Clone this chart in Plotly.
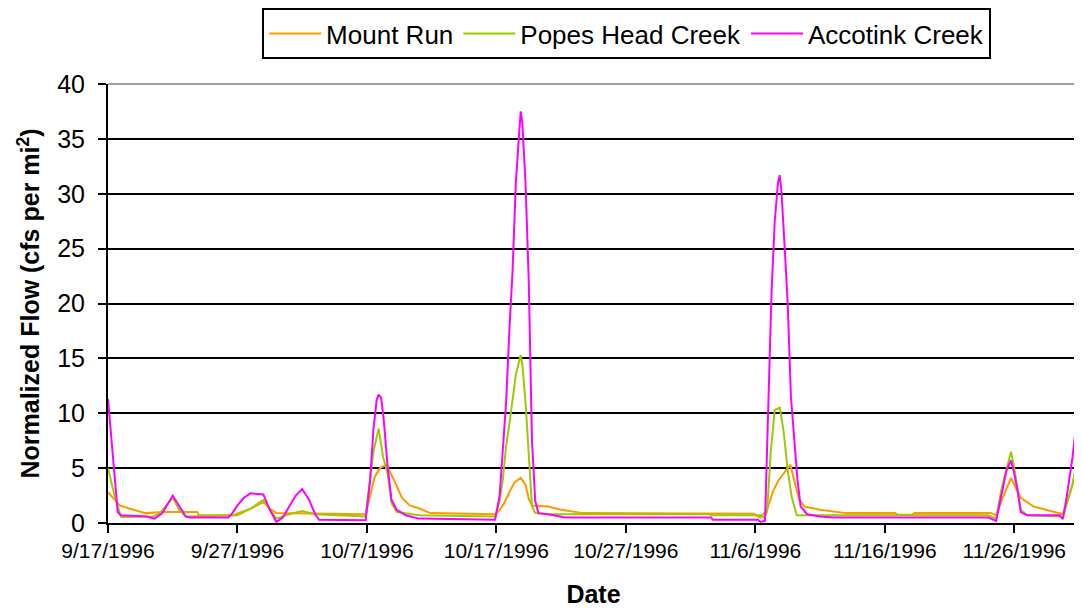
import pandas as pd
import plotly.graph_objects as go

START = "1996-09-17"
END = "1996-12-01"

# x values are days elapsed since START
mount_run_days = [0, 0.9, 1.7, 2.9, 4.3, 6.9, 7.0, 9.6, 11.0, 12.0,
                  12.5, 13.0, 19.9, 20.2, 20.6, 21.0, 21.5, 22.1, 22.7, 23.3,
                  24.1, 24.9, 29.9, 30.2, 30.6, 31.0, 31.4, 31.875, 32.25, 32.5,
                  32.75, 34.0, 35.0, 36.7, 49.9, 50.2, 50.4, 50.9, 51.4, 51.8,
                  52.7, 53.0, 53.4, 53.8, 55.0, 57.0, 60.8, 61.0, 62.1, 62.3,
                  68.2, 68.6, 69.0, 69.75, 70.0, 70.5, 71.5, 72.5, 73.5, 73.75,
                  74.5, 75]
mount_run_flow = [2.8, 1.6, 1.3, 0.9, 1.0, 1.0, 0.7, 0.7, 1.3, 1.9,
                  1.3, 0.9, 0.8, 2.3, 4.2, 5.0, 5.3, 3.9, 2.3, 1.6,
                  1.3, 0.9, 0.8, 1.1, 1.8, 2.8, 3.7, 4.1, 3.5, 2.2,
                  1.6, 1.5, 1.2, 0.9, 0.85, 0.6, 0.5, 1.2, 3.0, 3.9,
                  5.3, 3.9, 2.1, 1.5, 1.2, 0.9, 0.9, 0.75, 0.75, 0.9,
                  0.9, 0.7, 2.0, 4.1, 3.5, 2.3, 1.5, 1.2, 0.9, 0.8,
                  3.5, 6.3]

popes_head_days = [0, 0.5, 1.0, 3.5, 4.0, 5.0, 5.5, 6.0, 10.0, 11.0,
                   12.0, 12.5, 13.0, 14.0, 15.0, 16.0, 19.9, 20.25, 20.5, 20.9,
                   21.25, 21.6, 21.9, 22.3, 24, 29.9, 30.25, 30.5, 30.75, 31.0,
                   31.25, 31.5, 31.875, 32.0, 32.25, 32.5, 32.75, 33.0, 34, 46.5,
                   46.6, 50.4, 50.7, 50.9, 51.2, 51.5, 51.9, 52.2, 52.5, 52.8,
                   53.2, 68.0, 68.6, 69.0, 69.75, 70.0, 70.5, 71, 73.5, 73.75,
                   74.5, 75]
popes_head_flow = [5.0, 2.5, 0.55, 0.6, 0.9, 2.3, 1.2, 0.6, 0.7, 1.3,
                   2.1, 1.2, 0.4, 0.8, 1.1, 0.8, 0.6, 4.0, 6.5, 8.6,
                   6.0, 4.5, 1.8, 1.0, 0.7, 0.6, 2.0, 4.0, 7.0, 9.0,
                   11.5, 13.5, 15.3, 14.5, 11.0, 6.0, 1.5, 0.9, 0.8, 0.8,
                   0.7, 0.7, 0.5, 1.0, 6.6, 10.3, 10.5, 8.2, 4.8, 2.4,
                   0.7, 0.7, 0.4, 3.0, 6.5, 5.0, 1.2, 0.7, 0.6, 0.5,
                   3.5, 6.5]

accotink_days = [0, 0.75, 1, 3, 3.6, 4.2, 5, 5.5, 6, 6.3,
                 9.3, 9.6, 10, 10.5, 11, 12, 12.5, 13, 13.5, 14,
                 14.5, 15, 15.5, 16, 16.3, 19.9, 20.25, 20.5, 20.75, 20.9,
                 21.1, 21.3, 21.6, 21.9, 22.3, 22.6, 23, 24, 29.9, 30.25,
                 30.5, 30.75, 31.0, 31.25, 31.5, 31.75, 31.875, 32.0, 32.25, 32.5,
                 32.625, 32.75, 33.0, 33.25, 34, 35.3, 46.6, 46.7, 50.2, 50.4,
                 50.75, 51.0, 51.25, 51.5, 51.75, 51.875, 52.0, 52.25, 52.5, 52.75,
                 53.0, 53.25, 53.5, 54, 55, 56, 68, 68.6, 69.0, 69.4,
                 69.75, 70.0, 70.25, 70.5, 71, 73.5, 73.75, 74.0, 74.5, 75]
accotink_flow = [11.3, 1.0, 0.7, 0.6, 0.4, 0.9, 2.5, 1.5, 0.6, 0.5,
                 0.5, 0.9, 1.6, 2.3, 2.7, 2.6, 1.2, 0.1, 0.5, 1.5,
                 2.5, 3.1, 2.2, 0.8, 0.3, 0.25, 4.0, 8.5, 11.2, 11.7,
                 11.4, 9.4, 5.1, 2.1, 1.2, 1.0, 0.7, 0.4, 0.3, 2.5,
                 6.5, 11.0, 17.5, 23.0, 31.0, 36.0, 37.5, 36.5, 31.0, 22.0,
                 14.0, 7.5, 2.0, 0.9, 0.8, 0.5, 0.5, 0.3, 0.3, 0.1,
                 0.2, 10.0, 21.0, 27.5, 31.0, 31.7, 30.5, 25.5, 20.0, 11.5,
                 7.5, 4.0, 1.5, 0.8, 0.6, 0.5, 0.5, 0.2, 2.5, 4.8,
                 5.7, 4.5, 3.0, 1.0, 0.7, 0.7, 0.35, 2.0, 6.0, 11.3]

tick_dates = ["1996-09-17", "1996-09-27", "1996-10-07", "1996-10-17",
              "1996-10-27", "1996-11-06", "1996-11-16", "1996-11-26"]
tick_labels = ["9/17/1996", "9/27/1996", "10/7/1996", "10/17/1996",
               "10/27/1996", "11/6/1996", "11/16/1996", "11/26/1996"]

series_names = ["Mount Run", "Popes Head Creek", "Accotink Creek"]
series_colors = ["#FF9900", "#99CC00", "#FF00FF"]


def to_dates(days):
    return pd.Timestamp(START) + pd.to_timedelta(days, unit="D")


fig = go.Figure()
for name, color, days, flow in zip(series_names, series_colors,
                                    [mount_run_days, popes_head_days, accotink_days],
                                    [mount_run_flow, popes_head_flow, accotink_flow]):
    fig.add_trace(go.Scatter(x=to_dates(days), y=flow, mode="lines", name=name,
                             line=dict(color=color, width=2)))

FONT = "Liberation Sans, Arial, sans-serif"

# the page body adds an 8px offset, so the figure is 8px smaller than the window
fig.update_layout(
    width=1074, height=600,
    margin=dict(l=100, r=3, t=76, b=85, autoexpand=False),
    paper_bgcolor="white", plot_bgcolor="white",
    font=dict(family=FONT, color="black"),
    showlegend=True,
    legend=dict(orientation="h", xref="container", yref="container",
                x=0.576, xanchor="center", y=1.0, yanchor="top",
                bordercolor="black", borderwidth=2, bgcolor="white",
                font=dict(size=26, family=FONT), itemwidth=52, tracegroupgap=0),
    xaxis=dict(type="date", range=[START, END], tickvals=tick_dates, ticktext=tick_labels,
               ticks="outside", ticklen=8, tickwidth=2, tickcolor="black",
               showline=True, linecolor="black", linewidth=2, showgrid=False,
               zeroline=False, tickfont=dict(size=21), automargin=False,
               title=dict(text="<b>Date</b>", font=dict(size=25), standoff=28)),
    yaxis=dict(range=[0, 40], dtick=5, tick0=0,
               ticks="outside", ticklen=8, tickwidth=2, tickcolor="black",
               showline=True, linecolor="black", linewidth=2,
               showgrid=True, gridcolor="black", gridwidth=2, zeroline=False,
               tickfont=dict(size=25), ticklabelstandoff=8, automargin=False,
               title=dict(text="<b>Normalized Flow (cfs per mi<sup>2</sup>)</b>",
                          font=dict(size=25), standoff=10)),
    shapes=[dict(type="line", xref="paper", yref="paper", x0=0, x1=1, y0=1, y1=1,
                 line=dict(color="#A0A0A0", width=2), layer="above"),
            dict(type="line", xref="paper", yref="paper", x0=1, x1=1, y0=0, y1=1,
                 line=dict(color="#A0A0A0", width=1), layer="below")],
)

fig.write_html("out.html")
